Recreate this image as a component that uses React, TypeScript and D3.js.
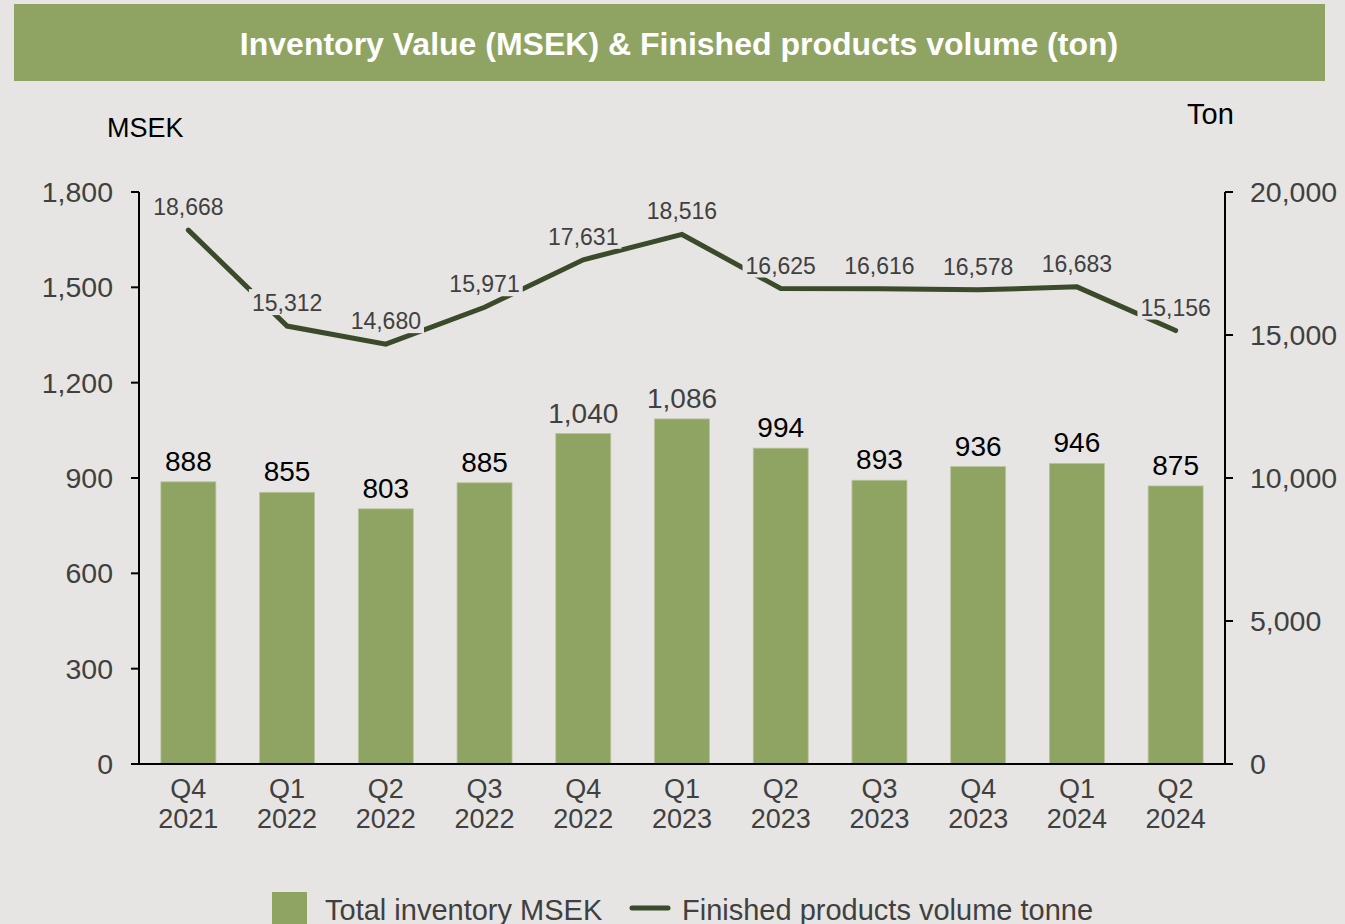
import React from "react";
import * as d3 from "d3";

const quarters = ["Q4", "Q1", "Q2", "Q3", "Q4", "Q1", "Q2", "Q3", "Q4", "Q1", "Q2"];
const years = ["2021", "2022", "2022", "2022", "2022", "2023", "2023", "2023", "2023", "2024", "2024"];
const inventoryMSEK = [888, 855, 803, 885, 1040, 1086, 994, 893, 936, 946, 875];
const volumeTon = [18668, 15312, 14680, 15971, 17631, 18516, 16625, 16616, 16578, 16683, 15156];
const leftTicks = [0, 300, 600, 900, 1200, 1500, 1800];
const rightTicks = [0, 5000, 10000, 15000, 20000];

const W = 1345;
const H = 924;
const BG = "#e6e5e3";
const GREEN = "#8fa462";
const DARK = "#3a4a2a";
const GREY = "#404040";
const FONT = "'Liberation Sans', Arial, Helvetica, sans-serif";

export default function App() {
  const left = 139;
  const right = 1225;
  const top = 192;
  const bottom = 764;
  const cats = quarters.map((q, i) => `${q} ${years[i]}`);
  const x = d3.scaleBand<string>().domain(cats).range([left, right]).paddingInner(0.443).paddingOuter(0.2215);
  const yL = d3.scaleLinear().domain([0, 1800]).range([bottom, top]);
  const yR = d3.scaleLinear().domain([0, 20000]).range([bottom, top]);
  const fmt = d3.format(",");
  const cx = (i: number) => (x(cats[i]) as number) + x.bandwidth() / 2;
  const linePath = d3
    .line<number>()
    .x((_, i) => cx(i))
    .y((d) => yR(d))(volumeTon) as string;
  const lblFs = 23;

  return (
    <svg
      width={W}
      height={H}
      style={{ position: "absolute", left: 0, top: 0, display: "block" }}
      fontFamily={FONT}
    >
      <rect x={0} y={0} width={W} height={H} fill={BG} />
      {/* Title bar */}
      <rect x={14} y={4} width={1311} height={77} fill={GREEN} />
      <text x={679} y={55} textAnchor="middle" fill="#ffffff" fontWeight="bold" fontSize={32}>
        Inventory Value (MSEK) &amp; Finished products volume (ton)
      </text>

      {/* Axis titles */}
      <text x={107} y={137} fontSize={27} fill="#000">MSEK</text>
      <text x={1187} y={124} fontSize={29} fill="#000">Ton</text>

      {/* Bars */}
      {inventoryMSEK.map((v, i) => (
        <rect
          key={"b" + i}
          x={x(cats[i])}
          y={yL(v)}
          width={x.bandwidth()}
          height={bottom - yL(v)}
          fill={GREEN}
          stroke="#b9c49c"
          strokeWidth={0.8}
        />
      ))}
      {inventoryMSEK.map((v, i) => (
        <text
          key={"bl" + i}
          x={cx(i)}
          y={yL(v) - 11}
          textAnchor="middle"
          fontSize={28}
          fill={v >= 1000 ? GREY : "#000"}
        >
          {fmt(v)}
        </text>
      ))}

      {/* Left axis */}
      <line x1={left} x2={left} y1={top} y2={bottom} stroke="#000" strokeWidth={2} />
      {leftTicks.map((t) => (
        <g key={"lt" + t}>
          <line x1={131} x2={left} y1={yL(t)} y2={yL(t)} stroke="#000" strokeWidth={2} />
          <text x={113} y={yL(t) + 10} textAnchor="end" fontSize={28.5} fill={GREY}>
            {fmt(t)}
          </text>
        </g>
      ))}

      {/* Right axis */}
      <line x1={right} x2={right} y1={top} y2={bottom} stroke="#000" strokeWidth={2} />
      {rightTicks.map((t) => (
        <g key={"rt" + t}>
          <line x1={right} x2={1233} y1={yR(t)} y2={yR(t)} stroke="#000" strokeWidth={2} />
          <text x={1250} y={yR(t) + 10} textAnchor="start" fontSize={28.5} fill={GREY}>
            {fmt(t)}
          </text>
        </g>
      ))}

      {/* X axis */}
      <line x1={131} x2={right} y1={bottom} y2={bottom} stroke="#000" strokeWidth={2} />
      {cats.map((c, i) => (
        <g key={"xt" + i}>
          <text x={cx(i)} y={798} textAnchor="middle" fontSize={27} fill={GREY}>
            {quarters[i]}
          </text>
          <text x={cx(i)} y={828} textAnchor="middle" fontSize={27} fill={GREY}>
            {years[i]}
          </text>
        </g>
      ))}

      {/* Line */}
      <path d={linePath} fill="none" stroke={DARK} strokeWidth={5} strokeLinecap="round" strokeLinejoin="miter" />
      {volumeTon.map((v, i) => {
        const w = 3.06 * lblFs + 6;
        const by = yR(v) - 23;
        return (
          <g key={"ll" + i}>
            <rect x={cx(i) - w / 2} y={by - 14} width={w} height={26} fill={BG} />
            <text x={cx(i)} y={by + 8} textAnchor="middle" fontSize={lblFs} fill={GREY}>
              {fmt(v)}
            </text>
          </g>
        );
      })}

      {/* Legend */}
      <rect x={272} y={892} width={35} height={40} fill={GREEN} />
      <text x={325} y={920} fontSize={29} fill={GREY}>Total inventory MSEK</text>
      <line x1={632} x2={668} y1={908} y2={908} stroke={DARK} strokeWidth={5} strokeLinecap="round" />
      <text x={682} y={920} fontSize={29} fill={GREY}>Finished products volume tonne</text>
    </svg>
  );
}
